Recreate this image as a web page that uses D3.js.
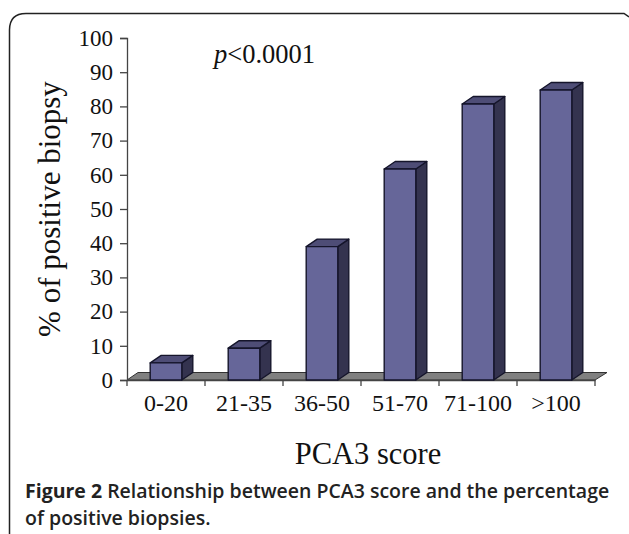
<!DOCTYPE html>
<html>
<head>
<meta charset="utf-8">
<script src="https://cdn.jsdelivr.net/npm/d3@7"></script>
<style>
  body { margin: 0; background: #fff; }
  svg { display: block; }
  .serif { font-family: "Liberation Serif", serif; fill: #111; }
  .caption { font-family: "Open Sans", sans-serif; font-size: 19.5px; fill: #222; }
</style>
</head>
<body>
<div id="container"></div>
<script>
/* DATA */
const categories = ["0-20", "21-35", "36-50", "51-70", "71-100", ">100"];
const values = [5, 9.3, 39, 61.7, 80.7, 84.8];
const yTicks = [0, 10, 20, 30, 40, 50, 60, 70, 80, 90, 100];

const width = 629, height = 534;
const dx = 11, dy = 7.5; // 3d depth

const svg = d3.select("#container").append("svg")
  .attr("width", width)
  .attr("height", height);

// frame, cut off at the bottom and right
svg.append("path")
  .attr("d", "M9.5,534 V30 Q9.5,13.5 26,13.5 H624 L629,17")
  .attr("fill", "none")
  .attr("stroke", "#222")
  .attr("stroke-width", 1.5);

const x = d3.scaleBand().domain(categories).range([127, 595]).paddingInner(0.595).paddingOuter(0.2975);
const y = d3.scaleLinear().domain([0, 100]).range([380, 38]);

// floor
const [x0, x1] = x.range();
svg.append("polygon")
  .attr("points", [[x0, y(0)], [x0 + dx, y(0) - dy], [x1 + dx + 1, y(0) - dy], [x1, y(0)]].join(" "))
  .attr("fill", "#808080")
  .attr("stroke", "#333")
  .attr("stroke-width", 1);

// axes
const yAxis = svg.append("g")
  .attr("transform", `translate(${x0},0)`)
  .call(d3.axisLeft(y).tickValues(yTicks).tickSize(7).tickSizeOuter(7).tickPadding(7));
const xAxis = svg.append("g")
  .attr("transform", `translate(0,${y(0)})`)
  .call(d3.axisBottom(x).tickSize(0).tickPadding(14));

// category ticks sit between the bars
svg.append("g").selectAll("line")
  .data(d3.range(categories.length + 1))
  .join("line")
  .attr("x1", i => x0 + i * x.step())
  .attr("x2", i => x0 + i * x.step())
  .attr("y1", y(0))
  .attr("y2", y(0) + 6)
  .attr("stroke", "#444")
  .attr("stroke-width", 1.3);
xAxis.select(".domain").attr("stroke", "#444").attr("stroke-width", 1.3);
yAxis.selectAll(".domain, line").attr("stroke", "#444").attr("stroke-width", 1.3);
yAxis.selectAll("text")
  .attr("class", "serif")
  .style("font-size", "23px")
  .style("font-family", "Liberation Serif");
xAxis.selectAll("text")
  .attr("class", "serif")
  .style("font-size", "24px")
  .style("font-family", "Liberation Serif");

// bars
const bars = svg.selectAll("g.bar")
  .data(categories.map((c, i) => ({ c, v: values[i] })))
  .join("g")
  .attr("class", "bar")
  .attr("stroke", "#15152b")
  .attr("stroke-width", 1.4)
  .attr("stroke-linejoin", "round");

bars.append("polygon") // side
  .attr("points", d => {
    const r = x(d.c) + x.bandwidth();
    return [[r, y(d.v)], [r + dx, y(d.v) - dy], [r + dx, y(0) - dy], [r, y(0)]].join(" ");
  })
  .attr("fill", "#34334f");

bars.append("polygon") // top
  .attr("points", d => {
    const l = x(d.c), r = l + x.bandwidth();
    return [[l, y(d.v)], [l + dx, y(d.v) - dy], [r + dx, y(d.v) - dy], [r, y(d.v)]].join(" ");
  })
  .attr("fill", "#4e4d76");

bars.append("rect") // front
  .attr("x", d => x(d.c))
  .attr("y", d => y(d.v))
  .attr("width", x.bandwidth())
  .attr("height", d => y(0) - y(d.v))
  .attr("fill", "#666699");

// labels
const pLabel = svg.append("text")
  .attr("class", "serif")
  .attr("x", 214)
  .attr("y", 63)
  .style("font-size", "26.5px");
pLabel.append("tspan").attr("font-style", "italic").text("p");
pLabel.append("tspan").text("<0.0001");

svg.append("text")
  .attr("class", "serif")
  .attr("transform", "translate(60,209) rotate(-90)")
  .attr("text-anchor", "middle")
  .style("font-size", "31px")
  .text("% of positive biopsy");

svg.append("text")
  .attr("class", "serif")
  .attr("x", 368)
  .attr("y", 464)
  .attr("text-anchor", "middle")
  .style("font-size", "30.5px")
  .text("PCA3 score");

// caption
const cap = svg.append("text").attr("class", "caption").attr("x", 25).attr("y", 498);
cap.append("tspan").attr("font-weight", 700).text("Figure 2");
cap.append("tspan").attr("font-weight", 600).text(" Relationship between PCA3 score and the percentage");
svg.append("text").attr("class", "caption").attr("x", 25).attr("y", 525)
  .attr("font-weight", 600).text("of positive biopsies.");
</script>
</body>
</html>
